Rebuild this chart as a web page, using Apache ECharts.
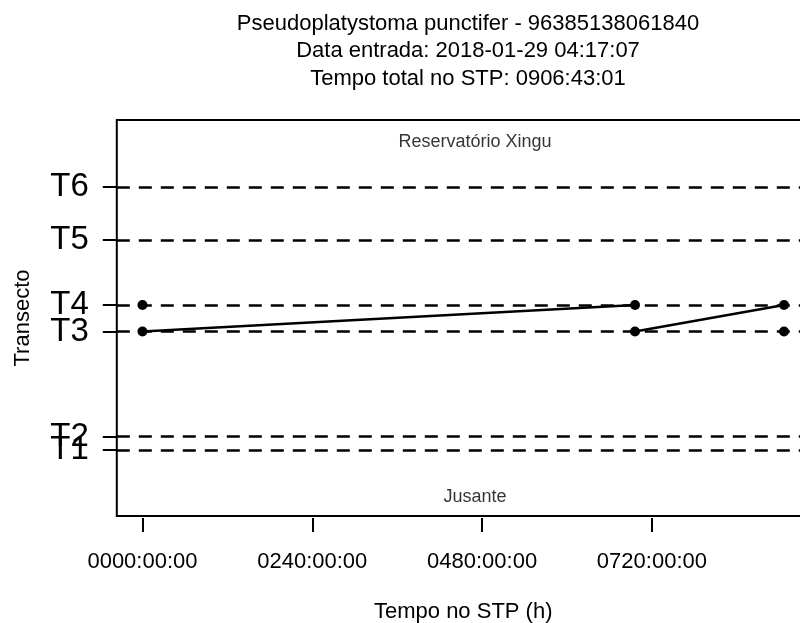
<!DOCTYPE html>
<html>
<head>
<meta charset="utf-8">
<script src="https://cdn.jsdelivr.net/npm/echarts@6/dist/echarts.min.js"></script>
<style>
html,body{margin:0;padding:0;background:#fff;}
#chart{width:800px;height:623px;}
</style>
</head>
<body>
<div id="chart"></div>
<script>
// ---- data ----
const titleLines = [
  'Pseudoplatystoma punctifer - 96385138061840',
  'Data entrada: 2018-01-29 04:17:07',
  'Tempo total no STP: 0906:43:01'
];
const transectNames = ['T1', 'T2', 'T3', 'T4', 'T5', 'T6'];
const transectPos = [16.67, 20.03, 46.59, 53.28, 69.7, 83.08];
const xTickHours = [0, 240, 480, 720];
const xTickLabels = ['0000:00:00', '0240:00:00', '0480:00:00', '0720:00:00'];
const detHours = [0, 0, 696.1, 696.1, 906.72, 906.72];
const detTransect = ['T4', 'T3', 'T4', 'T3', 'T4', 'T3'];
const pathSegments = [[1, 2], [3, 4]]; // pairs of detection indices joined by a line
const zoneNames = ['Jusante', 'Reservatório Xingu'];
const zonePos = [4.8, 94.4];
const zoneHour = 470;
const xRange = [-36.27, 942.99];
const yRange = [0, 100];

// ---- build ----
const posOf = t => transectPos[transectNames.indexOf(t)];
const detData = detHours.map((h, i) => [h, posOf(detTransect[i])]);
const FONT = 'Liberation Sans, Arial, sans-serif';

const series = [
  {
    type: 'scatter',
    data: detData,
    symbol: 'circle',
    symbolSize: 10,
    itemStyle: { color: '#000', opacity: 1 },
    z: 5,
    markLine: {
      silent: true,
      symbol: 'none',
      label: { show: false },
      lineStyle: { color: '#000', width: 2.5, type: [13, 9], opacity: 1 },
      emphasis: { disabled: true },
      data: transectPos.map(v => ({ yAxis: v }))
    }
  },
  {
    type: 'scatter',
    data: zoneNames.map((n, i) => ({ name: n, value: [zoneHour, zonePos[i]] })),
    symbolSize: 0,
    silent: true,
    label: {
      show: true, position: 'inside', formatter: p => p.name,
      color: '#000', fontSize: 18, fontFamily: FONT
    }
  }
];
pathSegments.forEach(seg => {
  series.push({
    type: 'line',
    data: seg.map(i => detData[i]),
    showSymbol: false,
    lineStyle: { color: '#000', width: 2.5, opacity: 1 },
    silent: true,
    z: 4
  });
});

// split the transect ticks over two stacked left axes so that close labels are never dropped
const groupA = transectPos.filter((_, i) => i % 2 === 0);
const groupB = transectPos.filter((_, i) => i % 2 === 1);
function makeYAxis(vals, withName) {
  return {
    type: 'value',
    position: 'left',
    offset: 0,
    min: yRange[0], max: yRange[1],
    splitLine: { show: false },
    axisLine: { show: false, onZero: false },
    axisTick: { show: true, inside: false, length: 14, lineStyle: { color: '#000', width: 2 }, customValues: vals },
    axisLabel: {
      customValues: vals,
      hideOverlap: false,
      showMinLabel: true,
      showMaxLabel: true,
      formatter: v => transectNames[transectPos.indexOf(v)],
      color: '#000', fontSize: 33, fontFamily: FONT, margin: 28
    },
    name: withName ? 'Transecto' : '',
    nameLocation: 'middle',
    nameGap: 83,
    nameTextStyle: { color: '#000', fontSize: 22, fontFamily: FONT }
  };
}

const chart = echarts.init(document.getElementById('chart'));
chart.setOption({
  animation: false,
  backgroundColor: '#fff',
  title: {
    text: titleLines.join('\n'),
    left: 463,
    top: 5,
    textAlign: 'center',
    textStyle: { fontSize: 22, fontWeight: 'normal', color: '#000', fontFamily: FONT, lineHeight: 27.5 }
  },
  grid: {
    left: 116.8, top: 120, bottom: 107, right: -9.7,
    containLabel: false,
    outerBoundsMode: 'none',
    show: true, borderColor: '#000', borderWidth: 2, backgroundColor: 'transparent'
  },
  xAxis: {
    type: 'value',
    min: xRange[0], max: xRange[1],
    offset: 2,
    splitLine: { show: false },
    axisLine: { show: false, onZero: false },
    axisTick: { show: true, length: 14, lineStyle: { color: '#000', width: 2 }, customValues: xTickHours },
    axisLabel: {
      customValues: xTickHours,
      hideOverlap: false,
      formatter: v => xTickLabels[xTickHours.indexOf(v)],
      color: '#000', fontSize: 22, fontFamily: FONT, margin: 33
    },
    name: 'Tempo no STP (h)',
    nameLocation: 'middle',
    nameGap: 83,
    nameTextStyle: { color: '#000', fontSize: 22, fontFamily: FONT }
  },
  yAxis: [makeYAxis(groupA, true), makeYAxis(groupB, false)],
  series: series
});
</script>
</body>
</html>
